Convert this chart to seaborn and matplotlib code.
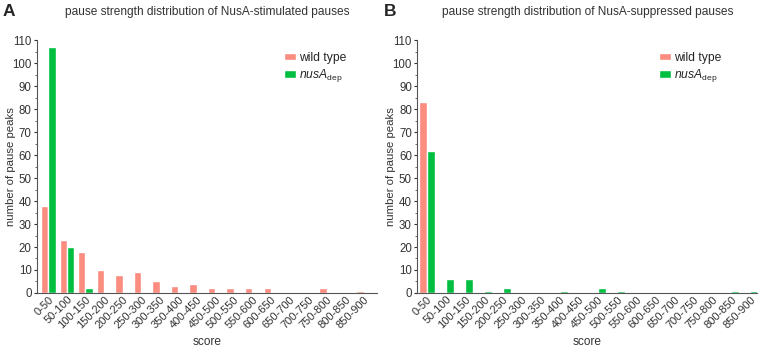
import matplotlib
matplotlib.use("Agg")
import matplotlib.pyplot as plt
from matplotlib.ticker import MultipleLocator
import numpy as np
import pandas as pd
import seaborn as sns

SCORES = ["0-50", "50-100", "100-150", "150-200", "200-250", "250-300",
          "300-350", "350-400", "400-450", "450-500", "500-550", "550-600",
          "600-650", "650-700", "700-750", "750-800", "800-850", "850-900"]

# panel A: NusA-stimulated pauses
stim_wt = [38, 23, 18, 10, 8, 9, 5, 3, 4, 2, 2, 2, 2, 0, 0, 2, 0, 1]
stim_dep = [107, 20, 2, 0, 0, 0, 0, 0, 0, 0, 0, 0, 0, 0, 0, 0, 0, 0]

# panel B: NusA-suppressed pauses
supp_wt = [83, 0, 0, 0, 0, 0, 0, 0, 0, 0, 0, 0, 0, 0, 0, 0, 0, 0]
supp_dep = [62, 6, 6, 1, 2, 0, 0, 1, 0, 2, 1, 0, 0, 0, 0, 0, 1, 1]

WT_LABEL = "wild type"
DEP_LABEL = r"$\it{nusA}_{\rm dep}$"
COLORS = {WT_LABEL: "#fa8c80", DEP_LABEL: "#00bf40"}


def make_df(wt, dep):
    return pd.DataFrame({
        "score": SCORES * 2,
        "count": wt + dep,
        "strain": [WT_LABEL] * len(SCORES) + [DEP_LABEL] * len(SCORES),
    })


def draw_panel(ax, df, title, xlim, leg_x):
    sns.barplot(data=df, x="score", y="count", hue="strain", palette=COLORS,
                width=0.8, gap=0, saturation=1, ax=ax)
    ax.set_ylim(0, 110)
    ax.set_xlim(*xlim)
    ax.yaxis.set_major_locator(MultipleLocator(10))
    ax.yaxis.set_minor_locator(MultipleLocator(5))
    ax.tick_params(axis="y", which="major", length=2.5, width=0.8, labelsize=8.3,
                   pad=1.5, colors="#333333")
    ax.tick_params(axis="y", which="minor", length=1.5, width=0.6, color="#555555")
    ax.tick_params(axis="x", length=0, labelsize=8, pad=1, colors="#333333")
    plt.setp(ax.get_xticklabels(), rotation=45, ha="right", rotation_mode="anchor")
    ax.set_xlabel("score", fontsize=8.6, color="#333333")
    ax.xaxis.set_label_coords(0.5, -0.17)
    ax.set_ylabel("number of pause peaks", fontsize=8.2, color="#333333")
    ax.yaxis.set_label_coords(-0.062, 0.5)
    for side in ["top", "right"]:
        ax.spines[side].set_visible(False)
    for side in ["left", "bottom"]:
        ax.spines[side].set_color("#555555")
        ax.spines[side].set_linewidth(0.8)
    ax.set_title(title, fontsize=8.6, pad=18, color="#333333")
    ax.legend(loc="upper left", bbox_to_anchor=(leg_x, 0.955), frameon=False,
              fontsize=8.7, handlelength=1.0, handleheight=0.6,
              handletextpad=0.25, labelspacing=0.3, borderpad=0,
              borderaxespad=0, title=None)


def main():
    sns.set_style("ticks")
    plt.rcParams["font.family"] = ["Liberation Sans", "DejaVu Sans"]
    plt.rcParams["mathtext.fontset"] = "custom"
    plt.rcParams["mathtext.it"] = "Liberation Sans:italic"
    plt.rcParams["mathtext.rm"] = "Liberation Sans"

    fig, axs = plt.subplots(1, 2, figsize=(7.6, 3.5), dpi=100)
    fig.subplots_adjust(left=0.049, right=0.996, top=0.885, bottom=0.163, wspace=0.12)

    draw_panel(axs[0], make_df(stim_wt, stim_dep),
               "pause strength distribution of NusA-stimulated pauses", (-0.6, 17.7), 0.726)
    draw_panel(axs[1], make_df(supp_wt, supp_dep),
               "pause strength distribution of NusA-suppressed pauses", (-0.5, 17.35), 0.71)

    fig.text(0.004, 0.99, "A", fontsize=12.5, fontweight="bold", va="top", ha="left")
    fig.text(0.505, 0.99, "B", fontsize=12.5, fontweight="bold", va="top", ha="left")

    fig.savefig("out.png", dpi=100)


if __name__ == "__main__":
    main()
